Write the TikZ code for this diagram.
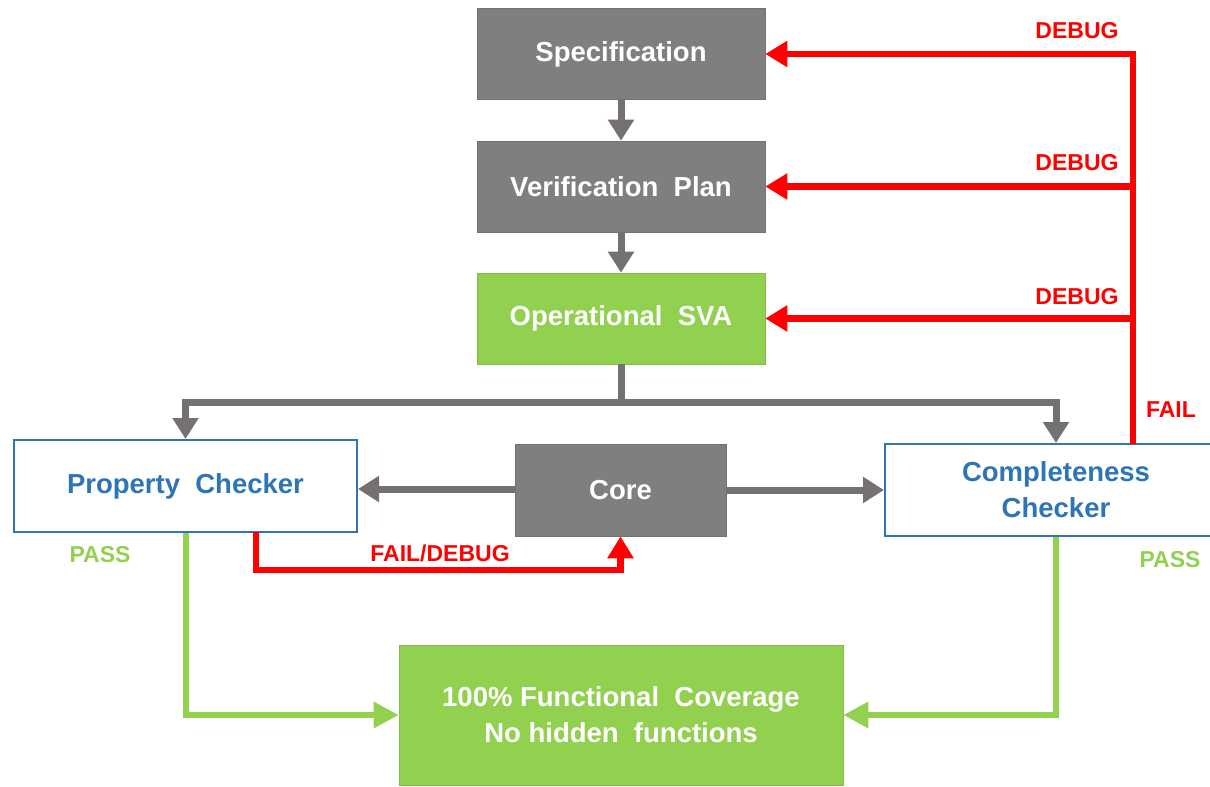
\documentclass[tikz,border=0pt]{standalone}
\usepackage{fontspec}
\setmainfont{Liberation Sans}
\usetikzlibrary{arrows.meta}
\definecolor{boxgray}{HTML}{7F7F7F}
\definecolor{linegray}{HTML}{767171}
\definecolor{lgreen}{HTML}{92D050}
\definecolor{cblue}{HTML}{2E75B6}
\definecolor{cred}{HTML}{FF0000}
\tikzset{
  graybox/.style={rectangle, fill=boxgray, draw=boxgray!90!black, line width=0.6pt, text=white, font=\bfseries\fontsize{27.5}{32}\selectfont, minimum width=288pt, minimum height=91pt, inner sep=0pt, align=center},
  greenbox/.style={graybox, fill=lgreen, draw=lgreen!90!black},
  bluebox/.style={rectangle, fill=white, draw=cblue, line width=2pt, text=cblue, font=\bfseries\fontsize{27.5}{36}\selectfont, minimum height=92pt, inner sep=0pt, align=center},
  garrow/.style={draw=linegray, line width=7pt, -{Triangle[width=25pt,length=21pt]}},
  gline/.style={draw=linegray, line width=7pt},
  rarrow/.style={draw=cred, line width=6.5pt, -{Triangle[width=25pt,length=22pt]}},
  rline/.style={draw=cred, line width=6.5pt},
  parrow/.style={draw=lgreen, line width=6pt, -{Triangle[width=25pt,length=25pt]}},
  rlabel/.style={text=cred, font=\bfseries\fontsize{23}{28}\selectfont},
  plabel/.style={text=lgreen, font=\bfseries\fontsize{23}{28}\selectfont},
}
\begin{document}
\begin{tikzpicture}[x=1pt,y=-1pt]
\useasboundingbox (0,0) rectangle (1210,787);
\node[graybox] (spec) at (621,54) {Specification};
\node[graybox] (vp) at (621,186.5) {Verification\ \ Plan};
\node[greenbox] (sva) at (621,318.5) {Operational\ \ SVA};
\node[bluebox, minimum width=343pt] (pc) at (185.5,486) {Property\ \ Checker};
\node[graybox, minimum width=211pt, minimum height=92pt] (core) at (620.5,490) {Core};
\node[bluebox, minimum width=342pt] (cc) at (1056,490) {Completeness\\Checker};
\node[greenbox, minimum width=444pt, minimum height=140pt, font=\bfseries\fontsize{27.5}{36}\selectfont] (cov) at (621,715) {100\%\ Functional\ \ Coverage\\No\ hidden\ \ functions};

% gray flow
\draw[garrow] (spec) -- (vp);
\draw[garrow] (vp) -- (sva);
\coordinate (j) at (621,402);
\draw[gline] (sva.south) -- ([yshift=3.5pt]j);
\draw[garrow] ([xshift=3.5pt]j) -| (pc.north);
\draw[garrow] ([xshift=-3.5pt]j) -| (cc.north);
\draw[garrow] (core.west |- 0,489) -- (pc.east |- 0,489);
\draw[garrow] (core.east |- 0,490) -- (cc.west |- 0,490);

% red debug loop
\coordinate (fs) at (1133,444);
\draw[rarrow] (fs) |- (spec.east);
\draw[rarrow] (vp.east -| fs) -- (vp.east);
\draw[rarrow] (sva.east -| fs) -- (sva.east);
\node[rlabel] (d1) at (1077,31) {DEBUG};
\node[rlabel] (d2) at (1077,163) {DEBUG};
\node[rlabel] (d3) at (1077,297) {DEBUG};
\node[rlabel] (fl) at (1171,410) {FAIL};

% fail/debug from property checker
\coordinate (pf) at (256,532);
\draw[rarrow] (pf) -- (256,570) -| (core.south);
\node[rlabel] (fd) at (440,553) {FAIL/DEBUG};

% pass paths
\draw[parrow] (pc.south) |- (cov.west);
\draw[parrow] (cc.south) |- (cov.east);
\node[plabel] (p1) at (100,555) {PASS};
\node[plabel] (p2) at (1170,560) {PASS};
\end{tikzpicture}
\end{document}
